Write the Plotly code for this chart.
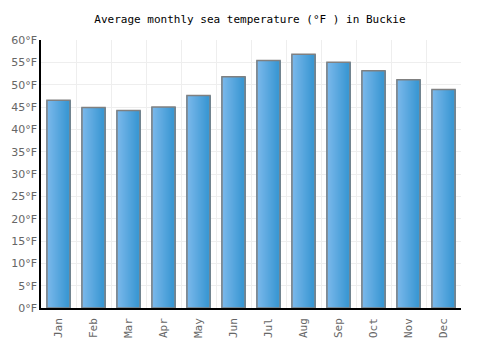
import plotly.graph_objects as go

months = ["Jan", "Feb", "Mar", "Apr", "May", "Jun", "Jul", "Aug", "Sep", "Oct", "Nov", "Dec"]
temps_f = [46.5, 44.9, 44.2, 45.0, 47.6, 51.8, 55.4, 56.8, 55.0, 53.1, 51.1, 48.9]
y_ticks = [0, 5, 10, 15, 20, 25, 30, 35, 40, 45, 50, 55, 60]
y_tick_labels = [f"{v}°F" for v in y_ticks]

x = list(range(len(months)))
fig = go.Figure()

bar_w = 0.66
n_strips = 22
c0 = (122, 184, 235)
c1 = (56, 150, 210)
sw = bar_w / n_strips
for i in range(n_strips):
    t = i / (n_strips - 1)
    col = tuple(round(c0[k] + (c1[k] - c0[k]) * t) for k in range(3))
    fig.add_trace(go.Bar(
        x=x, y=temps_f, width=sw * 1.08, offset=-bar_w / 2 + i * sw,
        marker=dict(color=f"rgb{col}", line=dict(width=0)),
        hoverinfo="skip", showlegend=False,
    ))
fig.add_trace(go.Bar(
    x=x, y=temps_f, width=bar_w,
    marker=dict(color="rgba(0,0,0,0)", line=dict(color="#808080", width=1.5)),
    showlegend=False,
))

fig.update_layout(
    barmode="overlay",
    width=500, height=350,
    margin=dict(l=41, r=39, t=40, b=42),
    paper_bgcolor="white", plot_bgcolor="white",
    title=dict(text="Average monthly sea temperature (°F ) in Buckie",
               x=0.5, xanchor="center", y=0.945, yanchor="middle",
               font=dict(family="DejaVu Sans Mono", size=11, color="#000")),
    xaxis=dict(
        range=[-0.5, 11.5], tickmode="array", tickvals=x, ticktext=months,
        tickangle=-90, showgrid=False, zeroline=False,
        showline=True, linecolor="#000", linewidth=1.5,
        tickfont=dict(family="DejaVu Sans Mono", size=11, color="#666"),
        ticks="", ticklen=0, ticklabelstandoff=4,
        minor=dict(tickvals=[v - 0.5 for v in range(13)], showgrid=True,
                   gridcolor="#eeeeee", gridwidth=1, ticks=""),
    ),
    yaxis=dict(
        range=[0, 60], tickmode="array", tickvals=y_ticks, ticktext=y_tick_labels,
        showgrid=True, gridcolor="#eeeeee", gridwidth=1, zeroline=False,
        showline=True, linecolor="#000", linewidth=1.5,
        tickfont=dict(family="Verdana, DejaVu Sans", size=11, color="#666"),
        ticks="", ticklen=0,
    ),
)

fig.write_html("out.html")
